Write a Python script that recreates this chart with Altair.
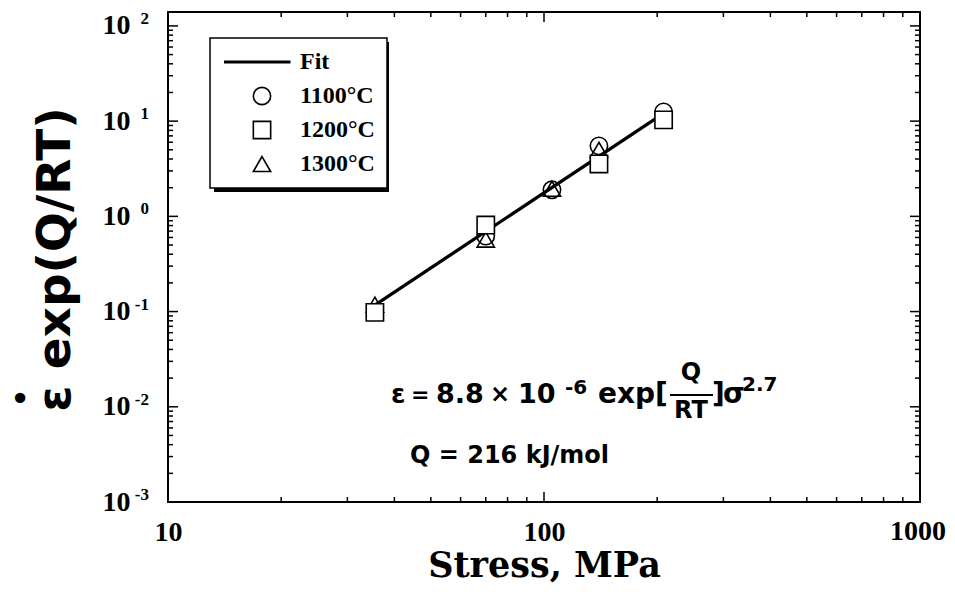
import altair as alt
import pandas as pd

# ---------------- data ----------------
series = ["1100°C", "1200°C", "1300°C"]

x_1100 = [70, 105, 140, 208]
y_1100 = [0.62, 1.9, 5.5, 12.5]

x_1300 = [35.5, 70, 105, 140]
y_1300 = [0.118, 0.57, 1.95, 5.0]

x_1200 = [35.5, 70, 140, 208]
y_1200 = [0.098, 0.81, 3.55, 10.3]

fit_x = [35.5, 207]
fit_y = [0.117, 11.9]

x_major = [10, 100, 1000]
x_minor = [m * 10 ** e for e in (1, 2) for m in range(2, 10)]
y_major = [0.001, 0.01, 0.1, 1, 10, 100]
y_minor = [m * 10.0 ** e for e in range(-3, 2) for m in range(2, 10)]
y_exponents = ["-3", "-2", "-1", "0", "1", "2"]

W, H = 752, 490
SERIF = "Liberation Serif"
SERIF2 = "DejaVu Serif"
SANS = "DejaVu Sans"

# ---------------- tables ----------------
pts_open = pd.concat([
    pd.DataFrame({"x": x_1100, "y": y_1100, "series": series[0]}),
    pd.DataFrame({"x": x_1300, "y": y_1300, "series": series[2]}),
], ignore_index=True)
pts_sq = pd.DataFrame({"x": x_1200, "y": y_1200, "series": series[1]})
fit = pd.DataFrame({"x": fit_x, "y": fit_y})
exps = pd.DataFrame({"y": y_major, "e": y_exponents})
last_x = pd.DataFrame({"x": x_major[-1:], "t": [str(x_major[-1])]})

xscale = alt.Scale(type="log", domain=[10, 1000], nice=False)
yscale = alt.Scale(type="log", domain=[0.001, 140], nice=False)

xaxis = alt.Axis(values=x_major, labelExpr="datum.value >= 1000 ? '' : format(datum.value, 'd')",
                 ticks=False, domain=False, grid=False,
                 labelFont=SERIF, labelFontWeight="bold", labelFontSize=28,
                 labelColor="black", labelPadding=16, labelFlush=False, labelOverlap=False,
                 title="Stress,  MPa", titleFont=SERIF2, titleFontWeight="bold",
                 titleFontSize=35, titleColor="black", titleY=74, titleBaseline="alphabetic")
yaxis = alt.Axis(values=y_major, labelExpr="'10'", ticks=False, domain=False, grid=False,
                 labelFont=SERIF, labelFontWeight="bold", labelFontSize=28,
                 labelColor="black", labelPadding=38, labelFlush=False, labelOverlap=False,
                 title="ε exp(Q/RT)", titleFont=SANS, titleFontWeight="bold",
                 titleFontSize=47, titleColor="black", titleAngle=270, titleX=-113, titleY=247,
                 titleAlign="center", titleBaseline="middle")

X = alt.X("x:Q", scale=xscale, axis=xaxis)
Y = alt.Y("y:Q", scale=yscale, axis=yaxis)

line = alt.Chart(fit).mark_line(color="black", strokeWidth=3.3).encode(x=X, y=Y)

exp_labels = alt.Chart(exps).mark_text(
    font=SERIF, fontWeight="bold", fontSize=17, align="right", baseline="middle",
    color="black", dy=-7).encode(y=Y, x=alt.value(-19), text="e:N")

# last x tick label, right-aligned so that it stays inside the page
last_label = alt.Chart(last_x).mark_text(
    font=SERIF, fontWeight="bold", fontSize=28, align="right", baseline="top",
    color="black", dx=26).encode(x=X, y=alt.value(H + 16), text="t:N")

fit_path = "M-4.3,-0.08H3.2V0.08H-4.3Z"
legend_domain = ["Fit"] + series
shape_scale = alt.Scale(domain=legend_domain,
                        range=[fit_path, "circle", "square", "triangle-up"])
legend = alt.Legend(orient="none", legendX=42, legendY=26, title=None,
                    symbolFillColor="white", symbolOffset=28)

points_open = alt.Chart(pts_open).mark_point(
    filled=False, color="black", strokeWidth=1.6, size=300, opacity=1
).encode(x=X, y=Y, shape=alt.Shape("series:N", scale=shape_scale, legend=legend))

points_sq = alt.Chart(pts_sq).mark_point(
    filled=False, fill="white", stroke="black", strokeWidth=1.6, size=300, opacity=1
).encode(x=X, y=Y, shape=alt.Shape("series:N", scale=shape_scale, legend=legend))


def ticks(values, side, length):
    df = pd.DataFrame({"y": values}) if side in ("left", "right") else pd.DataFrame({"x": values})
    c = alt.Chart(df).mark_rule(color="black", strokeWidth=1.5)
    if side == "left":
        return c.encode(y=Y, x=alt.value(0), x2=alt.value(length))
    if side == "right":
        return c.encode(y=Y, x=alt.value(W - length), x2=alt.value(W))
    if side == "bottom":
        return c.encode(x=X, y=alt.value(H - length), y2=alt.value(H))
    return c.encode(x=X, y=alt.value(0), y2=alt.value(length))


tick_layers = [
    ticks(y_major, "left", 10), ticks(y_minor, "left", 5),
    ticks(y_major, "right", 10), ticks(y_minor, "right", 5),
    ticks(x_major, "bottom", 10), ticks(x_minor, "bottom", 5),
    ticks(x_major, "top", 10), ticks(x_minor, "top", 5),
]

# legend drop shadow (decoration behind the legend box)
shadow = alt.Chart(pd.DataFrame({"a": [0]})).mark_rect(color="black").encode(
    x=alt.value(46), x2=alt.value(221), y=alt.value(30), y2=alt.value(180))

# ---------------- annotation text ----------------
ann_text = ["ε", "=", "8.8", "×", "10", "-6", "exp[", "Q", "RT", "]", "σ", "2.7", "Q = 216 kJ/mol"]
ann_px = [223, 243, 268, 322, 350, 397, 430, 523, 523, 544, 555, 574, 242]
ann_py = [383, 383, 383, 383, 383, 376, 383, 361, 399, 383, 383, 373, 444]
ann_fs = [26, 22, 27, 24, 27, 20, 28, 24, 24, 28, 28, 20, 24]
ann_al = ["left"] * 7 + ["center", "center"] + ["left"] * 4

text_layers = []
for t, px, py, fs, al in zip(ann_text, ann_px, ann_py, ann_fs, ann_al):
    text_layers.append(
        alt.Chart(pd.DataFrame({"t": [t]})).mark_text(
            font=SANS, fontWeight="bold", fontSize=fs, align=al,
            baseline="middle", color="black").encode(
            text="t:N", x=alt.value(px), y=alt.value(py))
    )
frac_bar = alt.Chart(pd.DataFrame({"a": [0]})).mark_rule(color="black", strokeWidth=1.8).encode(
    x=alt.value(502), x2=alt.value(545), y=alt.value(383))
dot = alt.Chart(pd.DataFrame({"t": ["•"]})).mark_text(
    font=SANS, fontSize=36, color="black", align="center", baseline="middle").encode(
    text="t:N", x=alt.value(-148), y=alt.value(388))

chart = alt.layer(
    line, *tick_layers, exp_labels, last_label, shadow, points_open, points_sq,
    *text_layers, frac_bar, dot
).properties(
    width=W, height=H,
    padding={"left": 160, "top": 4, "right": 27, "bottom": 84},
    autosize=alt.AutoSizeParams(type="none"),
    background="white",
).configure_view(
    stroke="black", strokeWidth=2
).configure_legend(
    strokeColor="black", strokeWidth=1.5, fillColor="white", padding=12, rowPadding=10,
    labelFont=SERIF, labelFontWeight="bold", labelFontSize=24, labelColor="black",
    labelOffset=26, symbolSize=300, symbolStrokeWidth=1.6, symbolStrokeColor="black",
)

chart.save("out.html", embed_options={"renderer": "svg", "actions": False})
